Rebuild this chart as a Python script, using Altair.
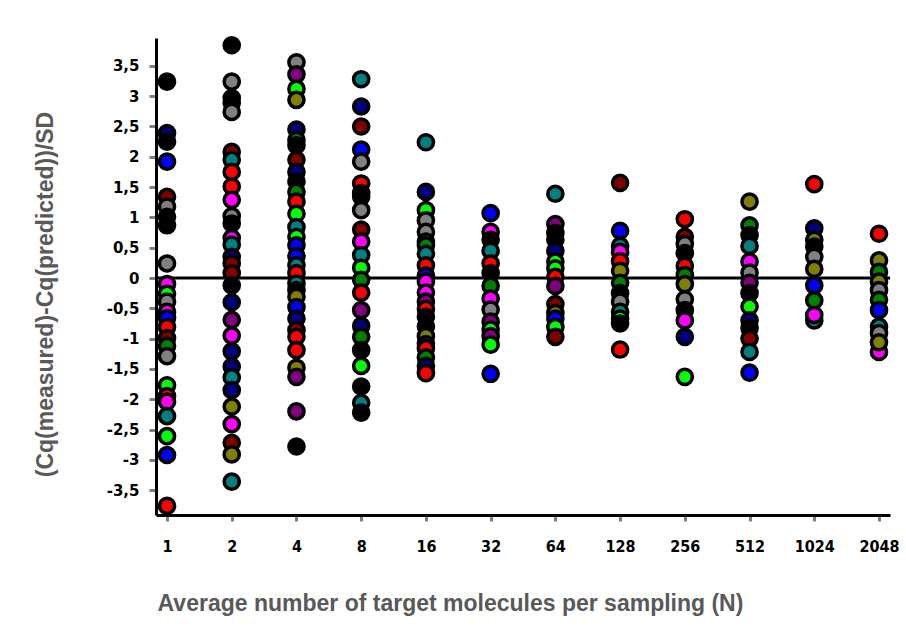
import altair as alt
import pandas as pd

N_LABELS = ["1", "2", "4", "8", "16", "32", "64", "128", "256", "512", "1024", "2048"]

COLOR_NAMES = ["black", "gray", "red", "maroon", "blue", "navy", "green", "lime",
               "teal", "magenta", "purple", "olive"]
COLOR_HEX = ["#000000", "#808080", "#ff0000", "#800000", "#0000ff", "#000080",
             "#008000", "#00ff00", "#008080", "#ff00ff", "#800080", "#808000"]

V_1 = [3.24, 2.39, 2.25, 1.92, 1.34, 1.18, 1.01, 0.87, 0.24, -0.10, -0.26, -0.39,
       -0.56, -0.66, -0.81, -0.99, -1.12, -1.29, -1.77, -1.95, -2.04, -2.28, -2.61, -2.92, -3.76]
C_1 = ["black", "navy", "black", "blue", "maroon", "gray", "black", "black", "gray", "magenta",
       "lime", "gray", "magenta", "blue", "red", "maroon", "green", "gray", "lime", "red",
       "magenta", "teal", "lime", "blue", "red"]

V_2 = [3.84, 3.24, 2.97, 2.89, 2.74, 2.08, 1.95, 1.75, 1.51, 1.29, 1.02, 0.90, 0.66, 0.55,
       0.35, 0.24, 0.08, -0.12, -0.40, -0.69, -0.95, -1.21, -1.46, -1.64, -1.85, -2.12,
       -2.41, -2.72, -2.91, -3.36]
C_2 = ["black", "gray", "black", "black", "gray", "maroon", "teal", "red", "red", "magenta",
       "gray", "black", "magenta", "teal", "navy", "maroon", "maroon", "black", "navy", "purple",
       "magenta", "navy", "navy", "teal", "navy", "olive", "magenta", "maroon", "olive", "teal"]

V_4 = [3.56, 3.36, 3.12, 2.94, 2.45, 2.28, 2.19, 1.95, 1.75, 1.59, 1.42, 1.26, 1.06, 0.84,
       0.68, 0.54, 0.36, 0.21, 0.08, -0.09, -0.20, -0.31, -0.48, -0.67, -0.86, -0.97, -1.19,
       -1.48, -1.63, -2.20, -2.78]
C_4 = ["gray", "purple", "lime", "olive", "navy", "green", "black", "maroon", "navy", "black",
       "green", "red", "lime", "teal", "lime", "blue", "blue", "teal", "red", "teal", "black",
       "olive", "blue", "navy", "maroon", "red", "red", "olive", "purple", "purple", "black"]

V_8 = [3.28, 2.83, 2.50, 2.12, 1.92, 1.56, 1.40, 1.34, 1.12, 0.80, 0.60, 0.38, 0.17, -0.03,
       -0.24, -0.53, -0.79, -0.97, -1.19, -1.45, -1.79, -2.06, -2.22]
C_8 = ["teal", "navy", "maroon", "blue", "gray", "red", "black", "black", "gray", "maroon",
       "magenta", "teal", "lime", "green", "red", "purple", "navy", "green", "black", "lime",
       "black", "teal", "black"]

V_16 = [2.24, 1.42, 1.12, 0.95, 0.76, 0.60, 0.54, 0.40, 0.21, 0.04, -0.06, -0.24, -0.39,
        -0.51, -0.64, -0.80, -0.96, -1.09, -1.16, -1.31, -1.45, -1.57]
C_16 = ["teal", "navy", "lime", "gray", "gray", "magenta", "green", "teal", "red", "blue",
        "magenta", "magenta", "purple", "red", "black", "black", "olive", "blue", "red", "green",
        "navy", "red"]

V_32 = [1.07, 0.76, 0.63, 0.45, 0.24, 0.08, -0.13, -0.34, -0.52, -0.72, -0.85, -0.96,
        -1.10, -1.58]
C_32 = ["blue", "magenta", "black", "teal", "red", "black", "green", "magenta", "gray",
        "purple", "lime", "purple", "lime", "blue"]

V_64 = [1.39, 0.89, 0.74, 0.63, 0.45, 0.27, 0.16, 0.02, -0.13, -0.43, -0.58, -0.67,
        -0.81, -0.97]
C_64 = ["teal", "purple", "black", "black", "navy", "lime", "lime", "red", "purple",
        "maroon", "olive", "blue", "lime", "maroon"]

V_128 = [1.57, 0.78, 0.53, 0.43, 0.28, 0.12, -0.08, -0.25, -0.39, -0.56, -0.67, -0.75,
         -1.18]
C_128 = ["maroon", "blue", "teal", "magenta", "red", "olive", "green", "black", "gray",
         "teal", "lime", "black", "red"]

V_256 = [0.97, 0.68, 0.56, 0.41, 0.20, 0.05, -0.10, -0.35, -0.53, -0.70, -0.97, -1.63]
C_256 = ["red", "maroon", "gray", "black", "red", "green", "olive", "gray", "black",
         "magenta", "navy", "lime"]

V_512 = [1.26, 0.87, 0.71, 0.53, 0.27, 0.09, -0.08, -0.25, -0.47, -0.70, -0.83, -1.00,
         -1.22, -1.56]
C_512 = ["olive", "green", "black", "teal", "magenta", "gray", "purple", "black", "lime",
         "navy", "black", "maroon", "teal", "blue"]

V_1024 = [1.55, 0.82, 0.63, 0.52, 0.35, 0.15, -0.12, -0.37, -0.70, -0.61]
C_1024 = ["red", "navy", "olive", "black", "gray", "olive", "blue", "green", "teal",
          "magenta"]

V_2048 = [0.73, 0.29, 0.10, -0.06, -0.20, -0.36, -0.53, -0.80, -0.91, -1.22, -1.06]
C_2048 = ["red", "olive", "green", "olive", "gray", "green", "blue", "teal", "gray",
          "magenta", "olive"]

ALL_V = [V_1, V_2, V_4, V_8, V_16, V_32, V_64, V_128, V_256, V_512, V_1024, V_2048]
ALL_C = [C_1, C_2, C_4, C_8, C_16, C_32, C_64, C_128, C_256, C_512, C_1024, C_2048]

Y_TICKS = [-3.5, -3.0, -2.5, -2.0, -1.5, -1.0, -0.5, 0.0, 0.5, 1.0, 1.5, 2.0, 2.5, 3.0, 3.5]

rows = []
order = 0
for lab, vals, cols in zip(N_LABELS, ALL_V, ALL_C):
    for v, c in zip(vals, cols):
        rows.append({"N": lab, "value": v, "series": c, "order": order})
        order += 1
df = pd.DataFrame(rows)

TITLE_COLOR = "#595959"

x_enc = alt.X(
    "N:N",
    sort=N_LABELS,
    scale=alt.Scale(type="point", domain=N_LABELS, padding=0.17),
    axis=alt.Axis(
        title="Average number of target molecules per sampling (N)",
        titleFont="Liberation Sans", titleFontSize=23, titleFontWeight="bold",
        titleColor=TITLE_COLOR, titleX=294, titleY=88, titleBaseline="middle",
        titleAlign="center",
        labelFont="DejaVu Sans Condensed", labelFontSize=16, labelFontWeight="bold",
        labelColor="#000000", labelAngle=0, labelPadding=17,
        domainColor="#000000", domainWidth=3,
        tickColor="#808080", tickWidth=3, tickSize=6, grid=False,
    ),
)

y_scale = alt.Scale(domain=[-3.91, 3.96], nice=False, zero=False)

y_axis = alt.Axis(
    title="(Cq(measured)-Cq(predicted))/SD",
    titleFont="Liberation Sans", titleFontSize=23, titleFontWeight="bold",
    titleColor=TITLE_COLOR, titleX=-111, titleY=256, titleAngle=270,
    titleAlign="center", titleBaseline="middle",
    values=Y_TICKS,
    labelExpr="replace(toString(datum.value), '.', ',')",
    labelOverlap=False,
    labelFont="DejaVu Sans", labelFontSize=15, labelFontWeight="bold",
    labelColor="#000000", labelPadding=10,
    domainColor="#000000", domainWidth=3,
    tickColor="#808080", tickWidth=3, tickSize=7, grid=False,
)

points = alt.Chart(df).mark_point(
    shape="circle", filled=True, size=230, stroke="#000000", strokeWidth=3.5, opacity=1
).encode(
    x=x_enc,
    y=alt.Y("value:Q", scale=y_scale, axis=y_axis),
    fill=alt.Fill("series:N", scale=alt.Scale(domain=COLOR_NAMES, range=COLOR_HEX), legend=None),
    order=alt.Order("order:Q"),
)

zero_rule = alt.Chart(pd.DataFrame({"value": [0.0]})).mark_rule(
    color="#000000", strokeWidth=3
).encode(y=alt.Y("value:Q", scale=y_scale, axis=y_axis))

chart = alt.layer(zero_rule, points).properties(
    width=734,
    height=477,
    autosize=alt.AutoSizeParams(type="none"),
    padding={"left": 156, "top": 38, "right": 16, "bottom": 115},
    background="#ffffff",
).configure_view(stroke=None).configure_axis(labelOverlap=False)

chart.save("out.html", embed_options={"renderer": "svg", "actions": False})
